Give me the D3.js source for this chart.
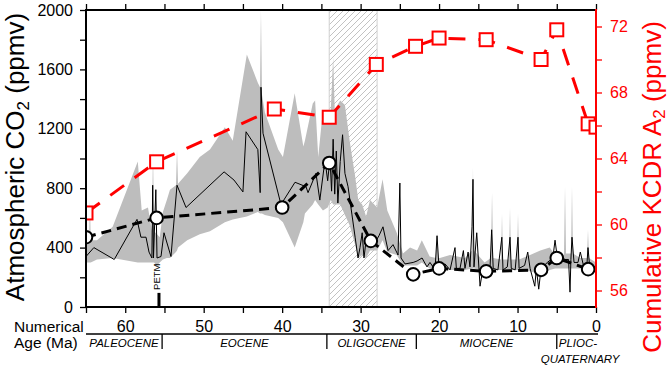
<!DOCTYPE html>
<html>
<head>
<meta charset="utf-8">
<script src="https://cdn.jsdelivr.net/npm/d3@7"></script>
<style>
  body { margin: 0; background: #fff; }
  text { font-family: "Liberation Sans", Arial, Helvetica, sans-serif; }
</style>
</head>
<body>
<script>
// CO2 envelope (grey band), age in Ma
var bandAge  = [65.0,64.6,64.5,64.4,63.6,61.6,58.4,57.9,57.1,56.6,56.46,56.33,55.95,55.6,55.2,54.7,54.3,53.53,53.4,53.27,52.1,50.5,49.2,47.3,46.3,44.5,43.1,42.82,42.7,42.57,42.2,40.5,39.9,38.4,37.3,37.1,36.1,35.8,35.4,34.8,34.2,33.8,33.5,33.3,32.6,32.0,31.4,30.7,30.3,29.8,29.3,28.8,27.9,27.2,26.6,25.4,24.6,23.7,22.8,22.2,21.2,20.4,20.26,20.1,19.9,18.6,16.7,15.8,15.68,15.55,14.2,13.4,13.25,13.1,12.1,11.98,11.86,11.09,10.96,10.84,10.07,9.94,9.81,8.4,7.1,5.9,5.2,4.08,3.95,3.82,3.18,3.06,2.93,2.0,1.15,1.02,0.89,0.0];
var bandLow  = [300,300,300,300,320,330,300,300,300,300,300,300,280,300,320,330,330,370,380,400,450,490,510,570,590,610,640,630,630,630,620,600,570,400,570,630,690,720,690,650,670,720,690,690,690,620,550,420,330,350,330,380,380,450,370,350,280,280,280,300,260,260,260,260,250,250,250,260,260,260,240,250,250,250,250,250,250,250,250,250,250,250,250,240,220,250,260,260,260,260,260,260,260,260,260,260,260,260];
var bandHigh = [420,450,720,450,450,540,980,650,670,510,1060,510,490,470,640,720,790,820,1060,830,900,1010,1060,1210,1120,1700,1510,1480,2000,1430,1310,1060,1010,1440,1080,1120,1370,1390,1010,1330,1260,1330,1680,1330,1390,1360,1120,880,720,690,610,720,670,860,650,500,360,400,380,450,340,330,500,330,330,350,330,380,940,380,300,330,770,330,320,630,320,320,670,320,320,630,320,350,380,400,350,350,810,360,360,810,360,330,330,520,330,300];

// CO2 central estimate (thin black line)
var lineAge = [65.0,64.0,61.4,58.5,58.0,57.35,56.97,56.6,56.5,56.4,56.1,55.95,55.44,55.06,54.17,53.4,52.25,47.4,46.14,45.0,44.6,43.1,42.8,42.7,42.44,40.15,38.36,36.96,36.7,35.69,35.2,34.54,34.2,33.9,33.7,33.5,33.3,33.1,32.9,32.6,32.3,32.0,31.6,31.1,30.7,30.33,30.08,29.8,29.57,29.3,29.06,28.7,28.2,27.66,27.15,26.5,25.87,25.23,25.0,24.85,24.34,23.3,22.8,22.17,21.54,21.16,20.52,20.26,20.0,19.24,18.6,17.97,17.8,17.33,16.9,16.7,16.3,16.06,15.8,15.68,15.55,15.2,14.78,14.4,14.15,13.5,13.3,13.1,12.5,12.0,11.85,11.3,10.96,10.8,10.3,9.94,9.8,9.1,8.7,8.4,7.8,7.6,7.3,7.0,6.2,5.5,5.22,5.0,4.4,4.0,3.5,3.31,3.2,3.06,2.8,2.3,2.0,1.6,1.2,1.02,0.8,0.4,0.0];
var lineCO2 = [340,400,320,590,470,470,370,330,820,330,790,330,340,500,340,820,670,910,855,775,1180,1060,770,1480,1170,690,840,810,770,900,720,990,850,1000,780,1130,760,1050,700,980,1160,900,810,620,470,330,400,500,330,450,460,440,430,480,540,380,420,350,835,330,290,300,310,330,270,300,250,480,260,290,250,400,260,260,380,260,370,270,540,860,270,500,140,260,250,270,520,260,250,470,250,270,470,260,250,470,260,280,370,260,140,260,120,260,300,330,450,360,350,320,320,100,320,470,300,300,370,280,250,400,270,260,280];

// CO2 compilation (open circles)
var circleAge = [65.0,56.0,40.0,34.0,28.7,23.3,20.0,14.0,7.0,5.0,1.0];
var circleCO2 = [470,600,670,970,445,220,260,240,250,330,255];

// cumulative KCDR A2 (red squares, right axis)
var kcdrAge = [65.0,56.0,41.0,34.0,28.0,23.0,20.0,14.0,7.0,5.0,1.0,0.0];
var kcdrVal = [60.7,63.8,67.0,66.5,69.7,70.8,71.3,71.2,70.0,71.8,66.1,65.9];

var epochNames  = ["PALEOCENE","EOCENE","OLIGOCENE","MIOCENE"];
var epochBounds = [65,55.3,34.3,22.9,5.0,0];
var hatchAges = [34.0,27.9];
var petmAge = 55.7;

var svg = d3.select("body").append("svg")
  .attr("width", 670)
  .attr("height", 373);

var x = d3.scaleLinear().domain([65,0]).range([86,596]);
var y = d3.scaleLinear().domain([0,2000]).range([307,10]);
var y2 = d3.scaleLinear().domain([55,73]).range([307,10]);

var defs = svg.append("defs");
defs.append("clipPath").attr("id","plotclip")
  .append("rect").attr("x",86).attr("y",10).attr("width",510).attr("height",297);
var pat = defs.append("pattern").attr("id","hatch")
  .attr("patternUnits","userSpaceOnUse").attr("width",6).attr("height",6);
pat.append("path").attr("d","M-1,1 l2,-2 M0,6 l6,-6 M5,7 l2,-2")
  .attr("stroke","#bbbbbb").attr("stroke-width",0.9);

var plot = svg.append("g").attr("clip-path","url(#plotclip)");

// hatched interval
plot.append("rect")
  .attr("x", x(hatchAges[0]))
  .attr("y", y(2000))
  .attr("width", x(hatchAges[1]) - x(hatchAges[0]))
  .attr("height", y(0) - y(2000))
  .attr("fill","url(#hatch)")
  .attr("stroke","#d0d0d0")
  .attr("stroke-width",1);

// grey envelope
var band = bandAge.map(function(a,i){ return {age:a, lo:bandLow[i], hi:bandHigh[i]}; });
plot.append("path")
  .datum(band)
  .attr("fill","#bdbdbd")
  .attr("d", d3.area().x(d=>x(d.age)).y0(d=>y(d.lo)).y1(d=>y(d.hi)));

// thin black line
plot.append("path")
  .datum(lineAge.map((a,i)=>[a,lineCO2[i]]))
  .attr("fill","none")
  .attr("stroke","#000")
  .attr("stroke-width",1)
  .attr("d", d3.line().x(d=>x(d[0])).y(d=>y(d[1])));

// PETM marker
svg.append("rect")
  .attr("x", x(petmAge)-1.5).attr("y", y(95))
  .attr("width",3).attr("height", y(0)-y(95))
  .attr("fill","#000");
svg.append("text")
  .attr("transform","translate(" + (x(petmAge)+1.5) + "," + (y(95)-3) + ") rotate(-90)")
  .attr("font-size","9.5px")
  .text("PETM");

// circles series
var circ = circleAge.map((a,i)=>[a,circleCO2[i]]);
plot.append("path")
  .datum(circ)
  .attr("fill","none")
  .attr("stroke","#000")
  .attr("stroke-width",3)
  .attr("stroke-dasharray","10,6")
  .attr("d", d3.line().x(d=>x(d[0])).y(d=>y(d[1])));
plot.selectAll("circle.co2")
  .data(circ)
  .enter().append("circle")
  .attr("class","co2")
  .attr("cx", d=>x(d[0])).attr("cy", d=>y(d[1]))
  .attr("r",6.3)
  .attr("fill","#fff").attr("stroke","#000").attr("stroke-width",2);

// KCDR series
var kc = kcdrAge.map((a,i)=>[a,kcdrVal[i]]);
plot.append("path")
  .datum(kc)
  .attr("fill","none")
  .attr("stroke","#f00")
  .attr("stroke-width",3)
  .attr("stroke-dasharray","17,13")
  .attr("d", d3.line().x(d=>x(d[0])).y(d=>y2(d[1])));
plot.selectAll("rect.kc")
  .data(kc)
  .enter().append("rect")
  .attr("class","kc")
  .attr("x", d=>x(d[0])-6.5).attr("y", d=>y2(d[1])-6.5)
  .attr("width",13).attr("height",13)
  .attr("fill","#fff").attr("stroke","#f00").attr("stroke-width",2);

// axes
var axLeft = svg.append("g").attr("transform","translate(86,0)")
  .call(d3.axisLeft(y).tickValues(d3.range(0,2001,200)).tickSize(6).tickPadding(7)
    .tickFormat(d => d % 400 === 0 ? d : ""));
var axBottom = svg.append("g").attr("transform","translate(0,307)")
  .call(d3.axisBottom(x).tickValues(d3.range(0,66,5)).tickSize(6).tickPadding(8)
    .tickFormat(d => d % 10 === 0 ? d : ""));
var axTop = svg.append("g").attr("transform","translate(0,10)")
  .call(d3.axisTop(x).tickValues(d3.range(0,66,5)).tickSize(6).tickFormat(""));
var axRight = svg.append("g").attr("transform","translate(596,0)")
  .call(d3.axisRight(y2).tickValues(d3.range(56,73,2)).tickSize(6).tickPadding(8)
    .tickFormat(d => d % 4 === 0 ? d : ""));

[axLeft,axBottom,axTop,axRight].forEach(function(g){
  g.select(".domain").remove();
  g.selectAll("line").attr("stroke-width",1.3);
  g.selectAll("text").attr("font-size","16px").attr("font-family",null);
});
axRight.selectAll("line").attr("stroke","#f00");
axRight.selectAll("text").attr("fill","#f00");

// frame
svg.append("line").attr("x1",86).attr("x2",86).attr("y1",9).attr("y2",308).attr("stroke","#000").attr("stroke-width",2);
svg.append("line").attr("x1",85).attr("x2",596).attr("y1",10).attr("y2",10).attr("stroke","#000").attr("stroke-width",2);
svg.append("line").attr("x1",85).attr("x2",596).attr("y1",307).attr("y2",307).attr("stroke","#000").attr("stroke-width",2);
svg.append("line").attr("x1",596).attr("x2",596).attr("y1",9).attr("y2",308).attr("stroke","#f00").attr("stroke-width",2);

// axis titles
var lt = svg.append("text")
  .attr("transform","translate(24,157) rotate(-90)")
  .attr("text-anchor","middle")
  .attr("font-size","26px");
lt.append("tspan").text("Atmospheric CO");
lt.append("tspan").attr("font-size","17px").attr("dy",5).text("2");
lt.append("tspan").attr("dy",-5).text(" (ppmv)");

var rt = svg.append("text")
  .attr("transform","translate(661,187) rotate(-90)")
  .attr("text-anchor","middle")
  .attr("font-size","26px")
  .attr("fill","#f00");
rt.append("tspan").text("Cumulative KCDR A");
rt.append("tspan").attr("font-size","17px").attr("dy",4).text("2");
rt.append("tspan").attr("dy",-4).text(" (ppmv)");

// time scale labels
svg.append("text").attr("x",14).attr("y",332).attr("font-size","15.5px").text("Numerical");
svg.append("text").attr("x",14).attr("y",348).attr("font-size","15.5px").text("Age (Ma)");

svg.append("line").attr("x1",86).attr("x2",598).attr("y1",334).attr("y2",334)
  .attr("stroke","#000").attr("stroke-width",1.3);
svg.selectAll("line.div")
  .data(epochBounds.slice(1,5))
  .enter().append("line")
  .attr("class","div")
  .attr("x1", d=>x(d)).attr("x2", d=>x(d))
  .attr("y1",334).attr("y2",349)
  .attr("stroke","#000").attr("stroke-width",1.3);
svg.selectAll("text.epoch")
  .data(epochNames)
  .enter().append("text")
  .attr("class","epoch")
  .attr("x", (d,i)=> (x(epochBounds[i]) + x(epochBounds[i+1]))/2)
  .attr("y",347)
  .attr("text-anchor","middle")
  .attr("font-size","11.5px")
  .attr("font-style","italic")
  .text(d=>d);
svg.append("text").attr("x", x(epochBounds[4])+2).attr("y",347)
  .attr("font-size","11.5px").attr("font-style","italic").text("PLIOC-");
svg.append("text").attr("x", x(epochBounds[4])-16).attr("y",363)
  .attr("font-size","11.5px").attr("font-style","italic").text("QUATERNARY");
</script>
</body>
</html>
